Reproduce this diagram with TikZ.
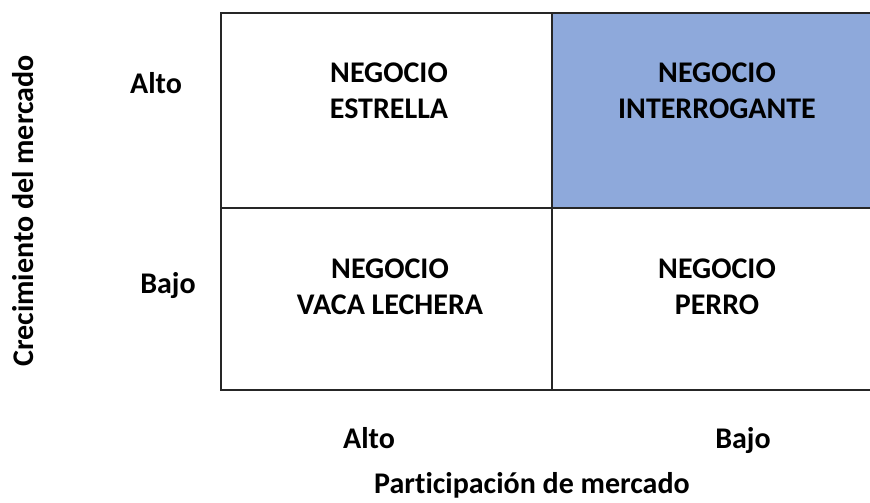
\documentclass[tikz,border=0pt]{standalone}
\usepackage{fontspec}
\setmainfont{Carlito}[Ligatures=NoCommon]
\definecolor{bcgblue}{HTML}{8EA9DB}
\definecolor{bcgline}{HTML}{262626}

\begin{document}
\begin{tikzpicture}[x=1pt, y=-1pt,
        txt/.style={font=\fontsize{30}{36}\selectfont\bfseries, inner sep=0pt},
        cell/.style={txt, align=center},
        grid/.style={draw=bcgline, line width=2.2pt}]
      \useasboundingbox (0,0) rectangle (870,503);

      % the four quadrants, right edge runs off the page
      \fill[bcgblue] (552,13) rectangle (872,208);
      \draw[grid] (872,13) -- (221,13) -- (221,390) -- (872,390);
      \draw[grid] (552,13) -- (552,390);
      \draw[grid] (221,208) -- (872,208);

      \node[cell] (star)     at (389,90.5)  {NEGOCIO\\ESTRELLA};
      \node[cell] (question) at (717,90.5)  {NEGOCIO\\INTERROGANTE};
      \node[cell] (cow)      at (390,286.5) {NEGOCIO\\VACA LECHERA};
      \node[cell] (dog)      at (717,286.5) {NEGOCIO\\PERRO};

      % axis labels
      \node[txt, anchor=base] (highg) at (156,93)  {Alto};
      \node[txt, anchor=base] (lowg)  at (168,293) {Bajo};
      \node[txt, anchor=base] (highs) at (369,448) {Alto};
      \node[txt, anchor=base] (lows)  at (743,448) {Bajo};
      \node[txt, rotate=90] (growth) at (23,211) {Crecimiento del mercado};
      \node[txt, anchor=base] (share) at (532,493) {Participación de mercado};
    \end{tikzpicture}
\end{document}
